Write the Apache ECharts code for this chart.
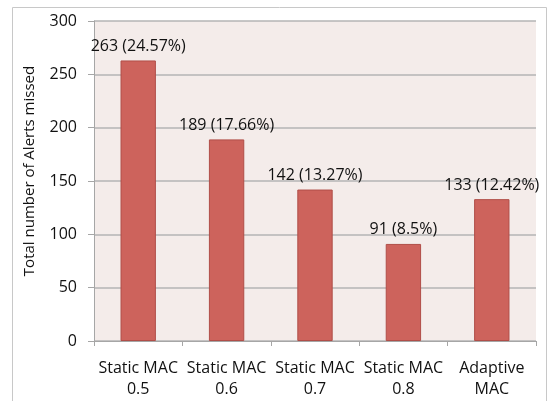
<!DOCTYPE html>
<html>
<head>
<meta charset="utf-8">
<script src="https://cdn.jsdelivr.net/npm/echarts@6/dist/echarts.min.js"></script>
<style>
  html, body { margin: 0; padding: 0; background: #fff; }
  #chart { width: 551px; height: 401px; }
</style>
</head>
<body>
<div id="chart"></div>
<script>
const categories = ['Static MAC\n0.5', 'Static MAC\n0.6', 'Static MAC\n0.7', 'Static MAC\n0.8', 'Adaptive\nMAC'];
const missed = [263, 189, 142, 91, 133];
const percents = ['24.57%', '17.66%', '13.27%', '8.5%', '12.42%'];
const yTicks = [0, 50, 100, 150, 200, 250, 300];

const font = '"Open Sans", "Liberation Sans", sans-serif';
let myChart = echarts.init(document.getElementById('chart'));

myChart.setOption({
  backgroundColor: '#fff',
  animation: false,
  grid: { left: 94, right: 15, top: 21, bottom: 60, show: true, backgroundColor: '#f4ecea', borderWidth: 0 },
  graphic: [
    {
      type: 'rect',
      shape: { x: 12.5, y: 7.5, width: 534, height: 400 },
      style: { fill: null, stroke: '#c8c8c8', lineWidth: 1 },
      z: -1
    }
  ],
  xAxis: {
    type: 'category',
    data: categories,
    axisLine: { lineStyle: { color: '#a6a6a6' } },
    axisTick: { show: true, length: 5, lineStyle: { color: '#a6a6a6' } },
    axisLabel: { color: '#111', fontSize: 16, fontFamily: font, lineHeight: 21, margin: 17, interval: 0 }
  },
  yAxis: {
    type: 'value',
    min: yTicks[0],
    max: yTicks[yTicks.length - 1],
    interval: 50,
    name: 'Total number of Alerts missed',
    nameLocation: 'middle',
    nameGap: 57,
    nameTextStyle: { color: '#111', fontSize: 15, fontFamily: font, padding: [0, 0, 0, 20] },
    axisLine: { show: true, lineStyle: { color: '#a6a6a6' } },
    axisTick: { show: true, inside: false, length: 6, lineStyle: { color: '#a6a6a6' } },
    axisLabel: { color: '#111', fontSize: 16, fontFamily: font, margin: 17 },
    splitLine: { lineStyle: { color: '#b4b4b4', width: 1.5 } }
  },
  series: [
    {
      type: 'bar',
      data: missed,
      barWidth: '40%',
      itemStyle: { color: '#cd635c', borderColor: '#b04e48', borderWidth: 1 },
      label: {
        show: true,
        position: 'top',
        distance: 6,
        color: '#111',
        fontSize: 16,
        fontFamily: font,
        formatter: p => p.value + ' (' + percents[p.dataIndex] + ')'
      }
    }
  ]
});
</script>
</body>
</html>
